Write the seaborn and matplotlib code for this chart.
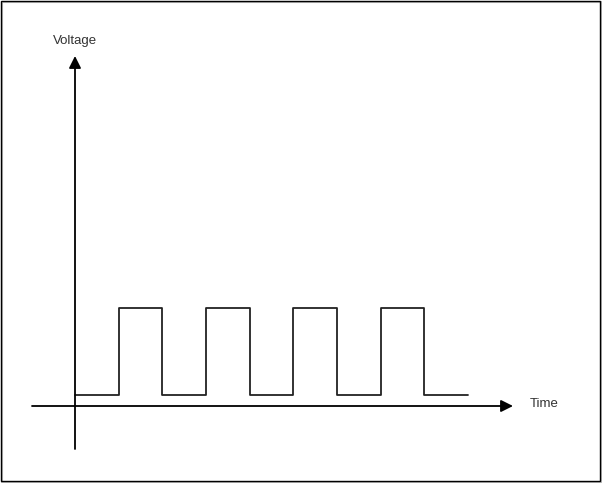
import matplotlib
matplotlib.use("Agg")
import matplotlib.pyplot as plt
import seaborn as sns
import pandas as pd
from matplotlib.patches import Rectangle

# Data: square wave (time units, voltage levels)
times = [0, 1, 2, 3, 4, 5, 6, 7, 8, 9]
levels = [0, 1, 0, 1, 0, 1, 0, 1, 0, 0]
x_label = "Time"
y_label = "Voltage"

sns.set_theme(style="white")
plt.rcParams['font.family'] = ['Liberation Sans', 'DejaVu Sans']

W, H = 602, 483
fig = plt.figure(figsize=(W / 100, H / 100), dpi=100)
ax = fig.add_axes([0, 0, 1, 1])

px_x = 393 / 9.0   # pixels per time unit
px_y = 87.0        # pixels per voltage unit
x0_px, y0_px = 75, 395
ax.set_xlim(-x0_px / px_x, (W - x0_px) / px_x)
ax.set_ylim((y0_px - H) / px_y, y0_px / px_y)
ax.axis("off")

df = pd.DataFrame({"t": times, "v": levels})
sns.lineplot(data=df, x="t", y="v", ax=ax, drawstyle="steps-post",
             estimator=None, color="#222222", linewidth=1.3)

def px2x(p):
    return (p - x0_px) / px_x

def px2y(p):
    return (y0_px - p) / px_y

arrow_kw = dict(arrowstyle="-|>,head_length=0.6,head_width=0.3", color="black",
                lw=1.3, mutation_scale=12, shrinkA=0, shrinkB=0)
# x axis
ax.annotate("", xy=(px2x(513), px2y(406)), xytext=(px2x(32), px2y(406)),
            arrowprops=arrow_kw)
# y axis
ax.annotate("", xy=(px2x(75), px2y(56)), xytext=(px2x(75), px2y(449)),
            arrowprops=arrow_kw)

ax.text(px2x(75), px2y(41), y_label, ha="center", va="center",
        fontsize=9.5, color="#333333")
ax.text(px2x(530), px2y(404), x_label, ha="left", va="center",
        fontsize=9.5, color="#333333")

# outer frame with soft shadow
fig.patches.append(Rectangle((2, 0.5), 600, 480.5, transform=None,
                             fill=False, edgecolor="#bbbbbb", lw=1.5))
fig.patches.append(Rectangle((0.5, 2), 599.5, 480.5, transform=None,
                             fill=False, edgecolor="black", lw=1.0))

fig.savefig("out.png", dpi=100)
